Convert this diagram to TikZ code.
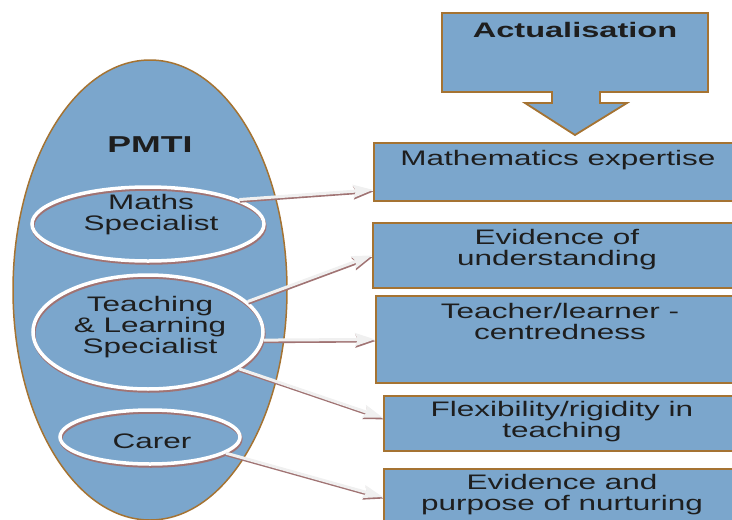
\documentclass[tikz,border=0pt]{standalone}
\usepackage{fontspec}
\setmainfont[FakeStretch=1.5]{Liberation Sans}
\newfontfamily\bigfont[FakeStretch=1.55]{Liberation Sans}
\usetikzlibrary{shapes.geometric,arrows.meta,calc}
\definecolor{fillblue}{RGB}{123,166,204}
\definecolor{brownline}{RGB}{165,115,50}
\definecolor{shadowc}{RGB}{160,115,115}
\definecolor{arrowc}{RGB}{240,240,240}
\definecolor{txt}{RGB}{30,30,30}
\begin{document}
\begin{tikzpicture}[x=1pt,y=-1pt,
  boxnode/.style={draw=brownline,line width=1.8pt,fill=fillblue,rectangle,anchor=north west,inner sep=0pt},
  txtnode/.style={text=txt,font=\fontsize{21}{21}\selectfont,align=center,inner sep=0pt,anchor=center},
  headnode/.style={text=txt,font=\bigfont\bfseries\fontsize{21}{21}\selectfont,inner sep=0pt,anchor=center},
  ring/.style={ellipse,draw=white,line width=3.5pt,inner sep=0pt,
    preaction={draw=shadowc,line width=3.5pt,transform canvas={shift={(0.8pt,-2pt)}}}},
  conn/.style={draw=arrowc,line width=3pt,-{Stealth[length=20pt,width=13pt,inset=3pt]},
    preaction={draw=shadowc,line width=3pt,-{Stealth[length=20pt,width=13pt,inset=3pt]},transform canvas={shift={(0.6pt,-1.6pt)}}}}
]
\useasboundingbox (0,0) rectangle (732,520);
\clip (0,0) rectangle (732,520);

% big PMTI ellipse
\node[ellipse,draw=brownline,fill=fillblue,line width=1.5pt,minimum width=274,minimum height=460,inner sep=0pt] (pmti) at (150,290) {};
\node[headnode,font=\bigfont\bfseries\fontsize{23}{23}\selectfont] (pmtit) at (150,145) {PMTI};

% inner rings
\node[ring,minimum width=232,minimum height=74] (ms) at (148,224) {};
\node[txtnode] (mst) at (151,215) {Maths\\Specialist};
\node[ring,minimum width=230,minimum height=114] (tl) at (148,332) {};
\node[txtnode] (tlt) at (150,327) {Teaching\\\& Learning\\Specialist};
\node[ring,minimum width=180,minimum height=54] (ca) at (150,437) {};
\node[txtnode] (cat) at (152,441) {Carer};

% actualisation arrow box
\filldraw[fill=fillblue,draw=brownline,line width=1.8pt]
  (442,13) -- (708,13) -- (708,92) -- (600,92) -- (600,103) -- (627,103) -- (575,135)
  -- (525,103) -- (552,103) -- (552,92) -- (442,92) -- cycle;
\node[headnode] (act) at (575,30) {Actualisation};

% right boxes
\node[boxnode,minimum width=369,minimum height=58] (me) at (373,142) {};
\node[txtnode] (met) at (558,160) {Mathematics expertise};
\node[boxnode,minimum width=370,minimum height=65] (eu) at (372,222) {};
\node[txtnode] (eut) at (557,250) {Evidence of\\understanding};
\node[boxnode,minimum width=367,minimum height=87] (tc) at (375,295) {};
\node[txtnode] (tct) at (560,321) {Teacher/learner -\\centredness};
\node[boxnode,minimum width=359,minimum height=55] (fl) at (383,395) {};
\node[txtnode] (flt) at (562,422) {Flexibility/rigidity in\\teaching};
\node[boxnode,minimum width=359,minimum height=62] (ep) at (383,468) {};
\node[txtnode] (ept) at (562,495) {Evidence and\\purpose of nurturing};

% connectors
\draw[conn] (ms.15) -- ($(me.south west)!0.2!(me.north west)$);
\draw[conn] (tl.17) -- (eu.west);
\draw[conn] (tl.-4) -- (tc.west);
\draw[conn] (tl.-22) -- ($(fl.north west)!0.4!(fl.south west)$);
\draw[conn] (ca.-12) -- ($(ep.north west)+(0,29)$);
\end{tikzpicture}
\end{document}
